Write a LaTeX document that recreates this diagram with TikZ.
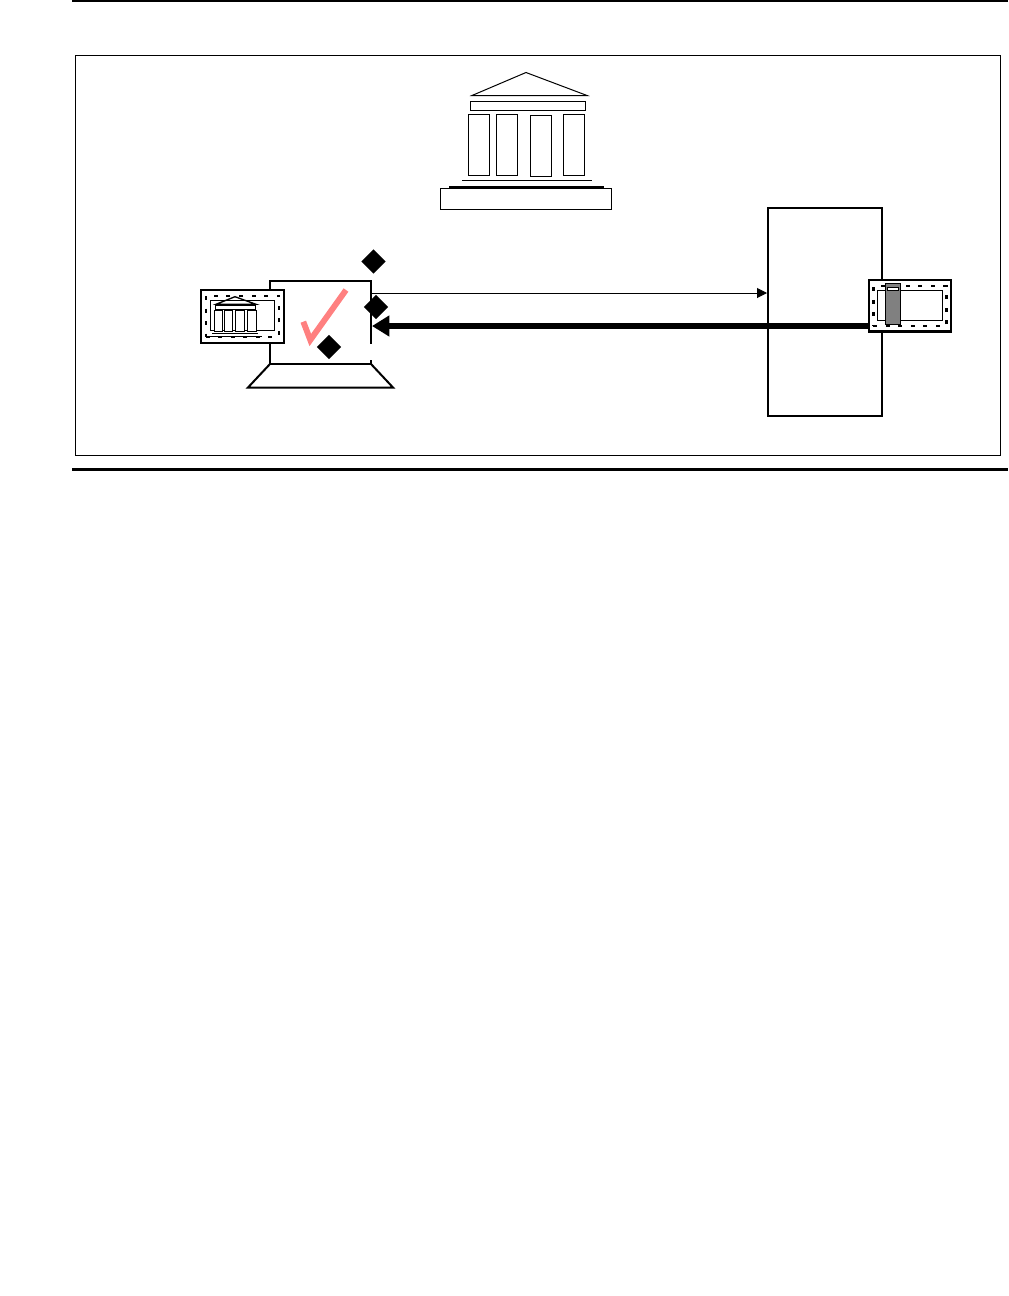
\documentclass[tikz,border=0pt]{standalone}
\usetikzlibrary{arrows.meta,shapes.geometric}
\definecolor{tickpink}{RGB}{255,128,128}

\begin{document}
\begin{tikzpicture}[
    x=0.75pt, y=-0.75pt,
    box/.style={rectangle, draw, inner sep=0pt, outer sep=0pt},
    pillar/.style={box, fill=white, line width=0.75pt, minimum width=15.75pt, minimum height=45.4pt},
    minipillar/.style={box, fill=white, line width=0.75pt, minimum width=6.3pt, minimum height=15.2pt},
    token/.style={box, fill=white, line width=1.9pt},
    perforation/.style={box, line width=1.8pt, dash pattern=on 3pt off 6.4pt},
    panel/.style={box, line width=0.75pt},
    marker/.style={diamond, fill=black, inner sep=0pt, minimum width=18.5pt, minimum height=18.5pt},
    heavy/.style={line width=1.5pt}
]
\useasboundingbox (0,0) rectangle (1008,1296);

% Page rules and frame
\draw[line width=1.5pt] (72,1) -- (1008,1);
\draw[line width=2.25pt] (72,469) -- (1008,469);
\node[panel, minimum width=693.75pt, minimum height=300pt] (frame) at (538,255) {};

% Bank on top
\draw[line width=0.75pt] (472,95.5) -- (526,72.5) -- (587,95.5) -- cycle;
\node[panel, minimum width=86.25pt, minimum height=6.75pt] (beam) at (528,106) {};
\node[pillar] (pillar1) at (479,144.75) {};
\node[pillar] (pillar2) at (507,144.75) {};
\node[pillar] (pillar3) at (541,145.75) {};
\node[pillar] (pillar4) at (574,144.75) {};
\draw[line width=0.75pt] (462,180.5) -- (592,180.5);
\draw[heavy] (449,186.5) -- (604,186.5);
\node[panel, minimum width=128.25pt, minimum height=16.1pt] (plinth) at (526,198.75) {};

% Right block, drawn before the arrows
\node[box, heavy, minimum width=85.5pt, minimum height=155.6pt] (gate) at (825,312) {};

% Laptop
\node[minimum width=75.75pt, minimum height=62.25pt, inner sep=0pt, outer sep=0pt] (display) at (320.5,322.5) {};
\draw[heavy] (display.north east) -- (display.north west) -- (display.south west) -- (display.south east);
\draw[line width=2.1pt] (display.east |- 0,280) -- (display.east |- 0,344);
\draw[line width=2.1pt] (display.east |- 0,360) -- (display.south east);
\draw[heavy] (display.south west) -- (248,387.5) -- (393,387.5) -- (display.south east);

% Tick
\draw[tickpink, line width=4.4pt] (303.3,321.7) -- (310.3,340) -- (346,290);

% Arrows
\coordinate (sendin) at (767,293);
\coordinate (backin) at (372,326);
\draw[-{Triangle[length=7.5pt, width=7.5pt]}, line width=0.75pt] (display.east |- sendin) -- (sendin);

% Right token
\node[token, minimum width=61.7pt, minimum height=38.8pt] (tokenb) at (910,305.85) {};
\draw[-{Triangle[length=13pt, width=15pt]}, line width=4.4pt] (tokenb.west |- backin) -- (backin);
\node[perforation, minimum width=55pt, minimum height=30pt] (perfb) at (910,306) {};
\node[panel, minimum width=48.75pt, minimum height=22pt] (cardb) at (910.2,305.35) {};
\node[box, fill=gray, line width=0.75pt, minimum width=11pt, minimum height=30.75pt] (server) at (893,303.8) {};
\node[box, fill=white, line width=0.75pt, minimum width=8.55pt, minimum height=2.55pt] (slot) at (893,289) {};

% Left token, with a small bank
\node[token, minimum width=62.25pt, minimum height=39.75pt] (tokena) at (242.3,316.5) {};
\node[perforation, minimum width=55pt, minimum height=30.75pt] (perfa) at (242.4,316.2) {};
\node[panel, minimum width=48pt, minimum height=22pt] (carda) at (242.3,315.35) {};
\draw[line width=1pt] (216,304.3) -- (235,296.7) -- (256,304.3) -- cycle;
\node[panel, minimum width=30pt, minimum height=2.5pt] (minibeam) at (235.3,307.65) {};
\node[minipillar] (minipillar1) at (218.5,321) {};
\node[minipillar] (minipillar2) at (228.5,321) {};
\node[minipillar] (minipillar3) at (240,321) {};
\node[minipillar] (minipillar4) at (252,321) {};
\draw[line width=0.75pt] (212,333.5) -- (258,333.5);
\draw[line width=0.75pt] (209,336.5) -- (262,336.5);

% Diamonds
\node[marker] (markera) at (373.5,261.5) {};
\node[marker] (markerb) at (376,307) {};
\node[marker] (markerc) at (329,347) {};

\end{tikzpicture}
\end{document}
